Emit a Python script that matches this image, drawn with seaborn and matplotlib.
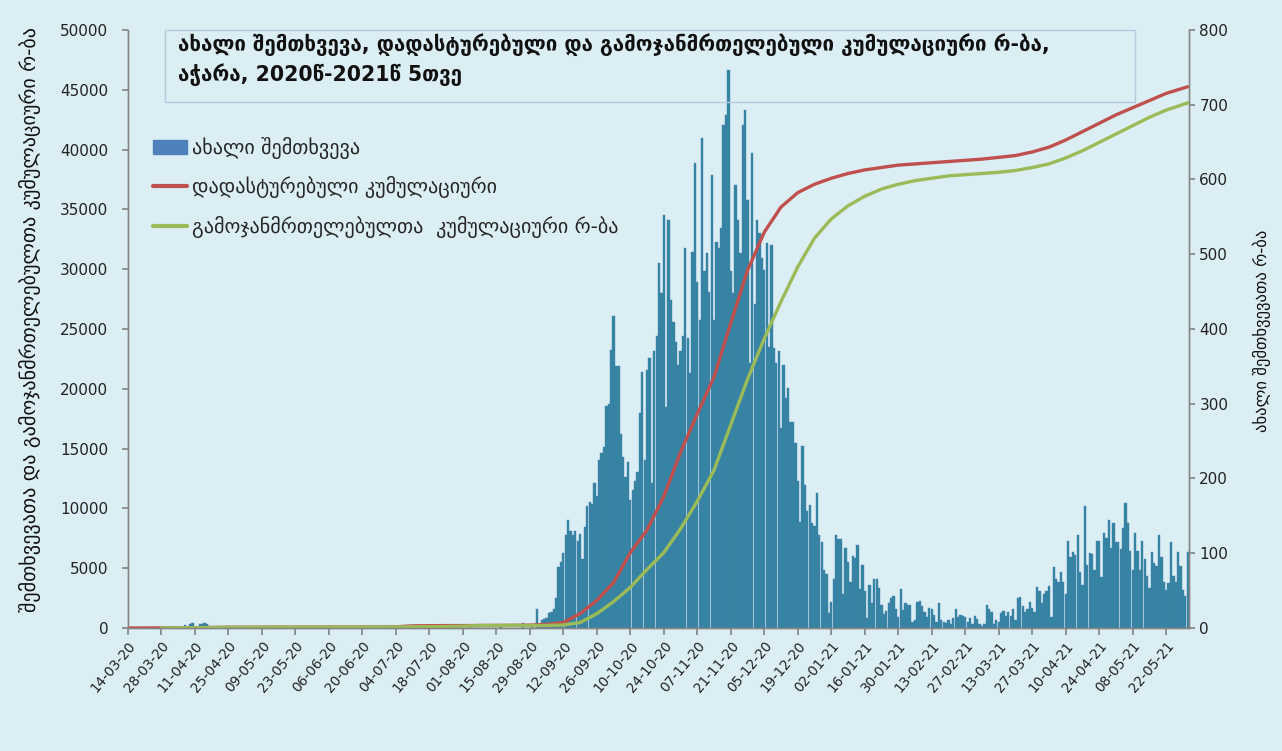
import matplotlib
matplotlib.use("Agg")
import pandas as pd
import matplotlib.pyplot as plt
import seaborn as sns
from matplotlib.patches import Patch, Rectangle
from matplotlib.lines import Line2D

# daily values, first day 14-03-2020, one row = 14 days
START_DATE = "2020-03-14"
NEW_CASES = [
    0, 0, 0, 0, 0, 0, 0, 0, 0, 0, 0, 0, 0, 0,
    0, 0, 0, 0, 0, 0, 0, 0, 0, 0, 4, 0, 5, 7,
    0, 0, 5, 6, 7, 5, 2, 0, 0, 0, 0, 0, 0, 0,
    0, 0, 0, 0, 0, 0, 0, 0, 0, 0, 0, 0, 0, 0,
    0, 0, 0, 0, 0, 0, 0, 0, 0, 0, 0, 0, 0, 0,
    0, 0, 0, 0, 0, 0, 0, 0, 0, 0, 0, 0, 0, 0,
    0, 0, 0, 0, 0, 0, 0, 0, 0, 0, 0, 0, 0, 0,
    0, 0, 0, 0, 0, 0, 0, 0, 0, 0, 0, 0, 0, 0,
    0, 0, 0, 0, 0, 0, 3, 0, 0, 0, 0, 0, 0, 0,
    0, 0, 0, 0, 0, 0, 0, 0, 0, 0, 0, 0, 0, 0,
    0, 0, 0, 2, 0, 0, 0, 0, 0, 0, 0, 0, 0, 0,
    0, 0, 3, 0, 0, 0, 0, 0, 0, 0, 0, 7, 0, 0,
    0, 4, 0, 25, 4, 11, 12, 13, 20, 22, 26, 40, 82, 88,
    100, 124, 144, 130, 125, 130, 117, 126, 92, 135, 163, 168, 166, 194,
    176, 225, 234, 242, 297, 300, 372, 417, 350, 350, 260, 229, 202, 222,
    171, 185, 196, 209, 287, 343, 225, 345, 361, 194, 370, 390, 488, 448,
    553, 296, 546, 439, 410, 383, 352, 370, 390, 508, 388, 341, 503, 622,
    463, 412, 655, 477, 501, 450, 606, 412, 517, 508, 535, 673, 686, 746,
    477, 448, 593, 546, 501, 673, 693, 573, 354, 636, 434, 546, 528, 495,
    479, 515, 376, 512, 374, 354, 370, 267, 352, 307, 321, 276, 276, 247,
    196, 142, 243, 191, 156, 165, 140, 136, 180, 124, 115, 78, 72, 20,
    35, 65, 125, 119, 119, 46, 107, 88, 61, 96, 94, 111, 52, 84,
    50, 13, 58, 33, 65, 65, 53, 31, 19, 23, 33, 40, 43, 26,
    15, 52, 24, 34, 31, 31, 8, 11, 35, 36, 29, 22, 15, 27,
    26, 17, 8, 33, 11, 8, 7, 11, 6, 14, 25, 15, 17, 16,
    15, 8, 14, 5, 16, 12, 5, 3, 5, 31, 26, 21, 6, 11,
    8, 20, 23, 16, 22, 16, 26, 11, 40, 41, 29, 22, 25, 35,
    27, 22, 55, 50, 33, 45, 50, 56, 15, 82, 66, 61, 75, 61,
    46, 116, 95, 102, 98, 125, 75, 57, 163, 84, 100, 99, 78, 116,
    116, 68, 127, 120, 144, 107, 140, 115, 115, 106, 134, 167, 141, 103,
    78, 127, 103, 78, 116, 92, 70, 53, 102, 87, 83, 125, 95, 62,
    51, 60, 115, 70, 61, 102, 83, 51, 43, 102,
]

# cumulative lines, read at day offsets from START_DATE
CONFIRMED_DAYS = [0, 7, 14, 28, 42, 56, 70, 84, 98, 112, 119, 126, 133, 140,
                  147, 154, 161, 168, 175, 182, 189, 196, 203, 210, 217, 224,
                  231, 238, 245, 252, 259, 266, 273, 280, 287, 294, 301, 308,
                  315, 322, 329, 336, 343, 350, 357, 364, 371, 378, 385, 392,
                  399, 406, 413, 420, 427, 434, 443]
CONFIRMED_CUM = [0, 0, 5, 30, 60, 65, 70, 75, 80, 100, 180, 190, 200, 200,
                 210, 215, 220, 240, 300, 450, 1200, 2300, 3800, 6300, 8200,
                 11000, 14700, 17900, 21000, 25500, 29900, 33100, 35200,
                 36400, 37100, 37600, 38000, 38300, 38500, 38700, 38800,
                 38900, 39000, 39100, 39200, 39350, 39500, 39800, 40200,
                 40800, 41500, 42200, 42900, 43500, 44100, 44700, 45250]

RECOVERED_DAYS = [14, 28, 42, 56, 70, 84, 98, 112, 119, 126, 133, 140, 147,
                  154, 161, 168, 175, 182, 189, 196, 203, 210, 217, 224, 231,
                  238, 245, 252, 259, 266, 273, 280, 287, 294, 301, 308, 315,
                  322, 329, 336, 343, 350, 357, 364, 371, 378, 385, 392, 399,
                  406, 413, 420, 427, 434, 443]
RECOVERED_CUM = [0, 20, 50, 60, 65, 70, 75, 90, 100, 110, 120, 150, 210, 215,
                 220, 200, 210, 250, 450, 1200, 2200, 3400, 4900, 6300, 8300,
                 10600, 13200, 17000, 20800, 24200, 27300, 30200, 32600, 34200,
                 35300, 36100, 36700, 37100, 37400, 37600, 37800, 37900, 38000,
                 38100, 38250, 38500, 38800, 39300, 39900, 40600, 41300, 42000,
                 42700, 43300, 43900]

TITLE = ("ახალი შემთხვევა, დადასტურებული და გამოჯანმრთელებული კუმულაციური რ-ბა,\n"
         "აჭარა, 2020წ-2021წ 5თვე")
LEGEND_LABELS = ["ახალი შემთხვევა",
                 "დადასტურებული კუმულაციური",
                 "გამოჯანმრთელებულთა  კუმულაციური რ-ბა"]
LEFT_LABEL = "შემთხვევათა და გამოჯანმრთელებულთა კუმულაციური რ-ბა"
RIGHT_LABEL = "ახალი შემთხვევათა რ-ბა"

BG = "#DBEEF4"
BAR = "#31859C"
BAR_EDGE = "#4A7EBB"
RED = "#C0504D"
GREEN = "#9BBB59"
AXIS = "#868686"


def main():
    sns.set_theme(style="white")
    plt.rcParams["font.family"] = ["DejaVu Sans"]

    days = list(range(len(NEW_CASES)))
    dates = pd.date_range(START_DATE, periods=len(NEW_CASES), freq="D")
    bars = pd.DataFrame({"day": days, "cases": NEW_CASES})
    conf = pd.DataFrame({"day": CONFIRMED_DAYS, "cum": CONFIRMED_CUM})
    rec = pd.DataFrame({"day": RECOVERED_DAYS, "cum": RECOVERED_CUM})

    fig = plt.figure(figsize=(12.82, 7.51), dpi=100, facecolor=BG)
    ax = fig.add_axes([0.0998, 0.1638, 0.8276, 0.7963])
    ax.set_facecolor(BG)

    # bars on the first axes (drawn below), their scale shown on the right
    sns.barplot(data=bars, x="day", y="cases", native_scale=True, orient="v",
                color=BAR, saturation=1, edgecolor=BAR_EDGE, linewidth=0.3,
                width=0.95, errorbar=None, ax=ax)
    ax2 = ax.twinx()
    sns.lineplot(data=conf, x="day", y="cum", color=RED, linewidth=2.4, ax=ax2)
    sns.lineplot(data=rec, x="day", y="cum", color=GREEN, linewidth=2.4, ax=ax2)

    ax.set_xlim(0, len(NEW_CASES) - 0.5)
    ax.set_ylim(0, 800)
    ax.set_yticks(range(0, 801, 100))
    ax2.set_ylim(0, 50000)
    ax2.set_yticks(range(0, 50001, 5000))

    ax.yaxis.tick_right()
    ax.yaxis.set_label_position("right")
    ax2.yaxis.tick_left()
    ax2.yaxis.set_label_position("left")

    ticks = days[::14]
    ax.set_xticks(ticks)
    ax.set_xticklabels([dates[t].strftime("%d-%m-%y") for t in ticks],
                       rotation=50, ha="right", rotation_mode="anchor",
                       fontsize=9.8, color="#222222")
    ax.set_xlabel("")
    ax.set_ylabel("")
    ax2.set_xlabel("")
    ax2.set_ylabel("")

    for a in (ax, ax2):
        a.spines["top"].set_visible(False)
        for s in ("left", "right", "bottom"):
            a.spines[s].set_color(AXIS)
            a.spines[s].set_linewidth(1)
        a.tick_params(axis="y", labelsize=11, colors="#222222", length=4,
                      color=AXIS, direction="out")
    ax2.tick_params(axis="y", pad=10)
    ax.tick_params(axis="x", length=5, color=AXIS, direction="out", pad=3)
    ax.tick_params(axis="x", bottom=True)

    fig.text(0.0234, 0.574, LEFT_LABEL, rotation=90, ha="center", va="center",
             fontsize=14.5, color="#111111")
    fig.text(0.984, 0.56, RIGHT_LABEL, rotation=90, ha="center", va="center",
             fontsize=12, color="#111111")

    # title box
    fig.patches.append(Rectangle((0.1287, 0.8642), 0.7566, 0.0959, fill=False,
                                 edgecolor="#B7C9DD", linewidth=1,
                                 transform=fig.transFigure))
    fig.text(0.139, 0.956, TITLE, ha="left", va="top", fontsize=14.8,
             fontweight="bold", linespacing=1.4, color="#111111")

    handles = [Patch(facecolor="#4F81BD", edgecolor="#4F81BD"),
               Line2D([], [], color=RED, linewidth=3),
               Line2D([], [], color=GREEN, linewidth=3)]
    ax2.legend(handles, LEGEND_LABELS, loc="upper left",
               bbox_to_anchor=(0.119, 0.818), bbox_transform=fig.transFigure,
               frameon=False, fontsize=14.5, handlelength=1.7, handleheight=0.7,
               labelspacing=0.88, handletextpad=0.25, borderpad=0,
               borderaxespad=0)

    fig.savefig("out.png", dpi=100, facecolor=BG)


if __name__ == "__main__":
    main()
